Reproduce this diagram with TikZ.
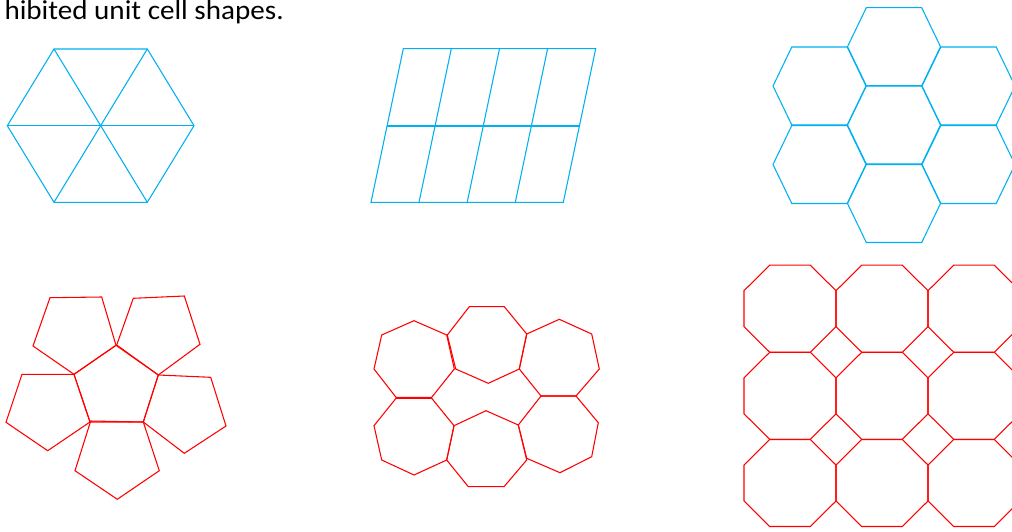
\documentclass[tikz,border=0pt]{standalone}
\usepackage{fontspec}
\setmainfont{Carlito}
\definecolor{cellblue}{RGB}{0,176,240}
\definecolor{cellred}{RGB}{255,0,0}
\tikzset{
  bluel/.style={draw=cellblue, line width=0.8pt, line join=miter},
  redl/.style={draw=cellred, line width=0.8pt, line join=miter},
  captext/.style={inner sep=0pt, anchor=base east, font=\fontsize{20.5}{24}\selectfont}
}
\begin{document}
\begin{tikzpicture}[x=0.75pt,y=-0.75pt]
\useasboundingbox (0,0) rectangle (1012,531);
\clip (0,0) rectangle (1012,531);
% caption
\node[captext] (cap) at (284,19.5) {\scalebox{1.065}[1]{hibited unit cell shapes.}};
% hexagon of triangles
\coordinate (hc) at (100.7,125.7);
\draw[bluel] (54,49) -- (147.3,49) -- (194,125.7) -- (147.3,202.3) -- (54,202.3) -- (7.3,125.7) -- cycle;
\draw[bluel] (7.3,125.7) -- (194,125.7);
\draw[bluel] (54,49) -- (147.3,202.3);
\draw[bluel] (147.3,49) -- (54,202.3);
% parallelogram grid
\draw[bluel] (403.3,48.7) -- (595.7,48.7) -- (563.3,202.3) -- (371,202.3) -- cycle;
\draw[bluel] (387.2,126) -- (579.5,126);
\foreach \t/\b in {451.3/419, 499.5/467.2, 547.6/515.3}
  \draw[bluel] (\t,48.7) -- (\b,202.3);
% honeycomb
\foreach \cx/\cy in {894/46.7, 894/125, 894/203.5, 819.5/86, 819.5/164.5, 968.5/86, 968.5/164.5}
  \draw[bluel] (\cx-27.7,\cy-39) -- (\cx+27.7,\cy-39) -- (\cx+46.5,\cy) -- (\cx+27.7,\cy+39) -- (\cx-27.7,\cy+39) -- (\cx-46.5,\cy) -- cycle;
% pentagons
\draw[redl] (116,345.3) -- (158.3,375) -- (143.3,422) -- (90,422) -- (74,374.3) -- cycle;
\draw[redl] (50,297.7) -- (101.7,297) -- (116,345.3) -- (74,374.3) -- (33,346) -- cycle;
\draw[redl] (133.3,298.3) -- (184.3,296) -- (200,344.3) -- (158.3,375) -- (116.7,345) -- cycle;
\draw[redl] (22,374.3) -- (74,374.3) -- (90,422) -- (47.7,450.7) -- (6,422.3) -- cycle;
\draw[redl] (158.3,375) -- (210.7,377.3) -- (226,426) -- (184.3,453.3) -- (143.3,422) -- cycle;
\draw[redl] (90.7,421) -- (143.3,422) -- (159.3,470.7) -- (117.3,499.3) -- (75,470.7) -- cycle;
% heptagons
\draw[redl] (414,320.7) -- (446.7,335) -- (454.3,369) -- (431.7,397.3) -- (396,397.3) -- (374,369) -- (381.7,335) -- cycle;
\draw[redl] (469.3,306.7) -- (504.3,306.7) -- (526.7,334) -- (519.3,369) -- (488.3,383.3) -- (455.7,369) -- (447.3,335) -- cycle;
\draw[redl] (559.3,319.3) -- (591.7,334) -- (599.3,369) -- (576,396) -- (541,396) -- (519.3,369) -- (526.7,334) -- cycle;
\draw[redl] (396,398.3) -- (431.7,398.3) -- (454,425.7) -- (446.7,460) -- (414,475) -- (381.7,460) -- (374,425.7) -- cycle;
\draw[redl] (486,410.7) -- (518.3,425) -- (526.7,460) -- (504,486.7) -- (468.3,486.7) -- (446.7,460) -- (454,425.7) -- cycle;
\draw[redl] (541,396) -- (576,396) -- (598.3,422.7) -- (591.7,456.7) -- (560,472.7) -- (526.7,458.3) -- (518.3,425) -- cycle;
% octagons
\foreach \cx in {790, 882, 974}
  \foreach \cy in {308.7, 395.8, 483}
    \draw[redl] (\cx-20.3,\cy-43.5) -- (\cx+20.3,\cy-43.5) -- (\cx+46,\cy-18) -- (\cx+46,\cy+18) -- (\cx+20.3,\cy+43.5) -- (\cx-20.3,\cy+43.5) -- (\cx-46,\cy+18) -- (\cx-46,\cy-18) -- cycle;
\end{tikzpicture}
\end{document}
